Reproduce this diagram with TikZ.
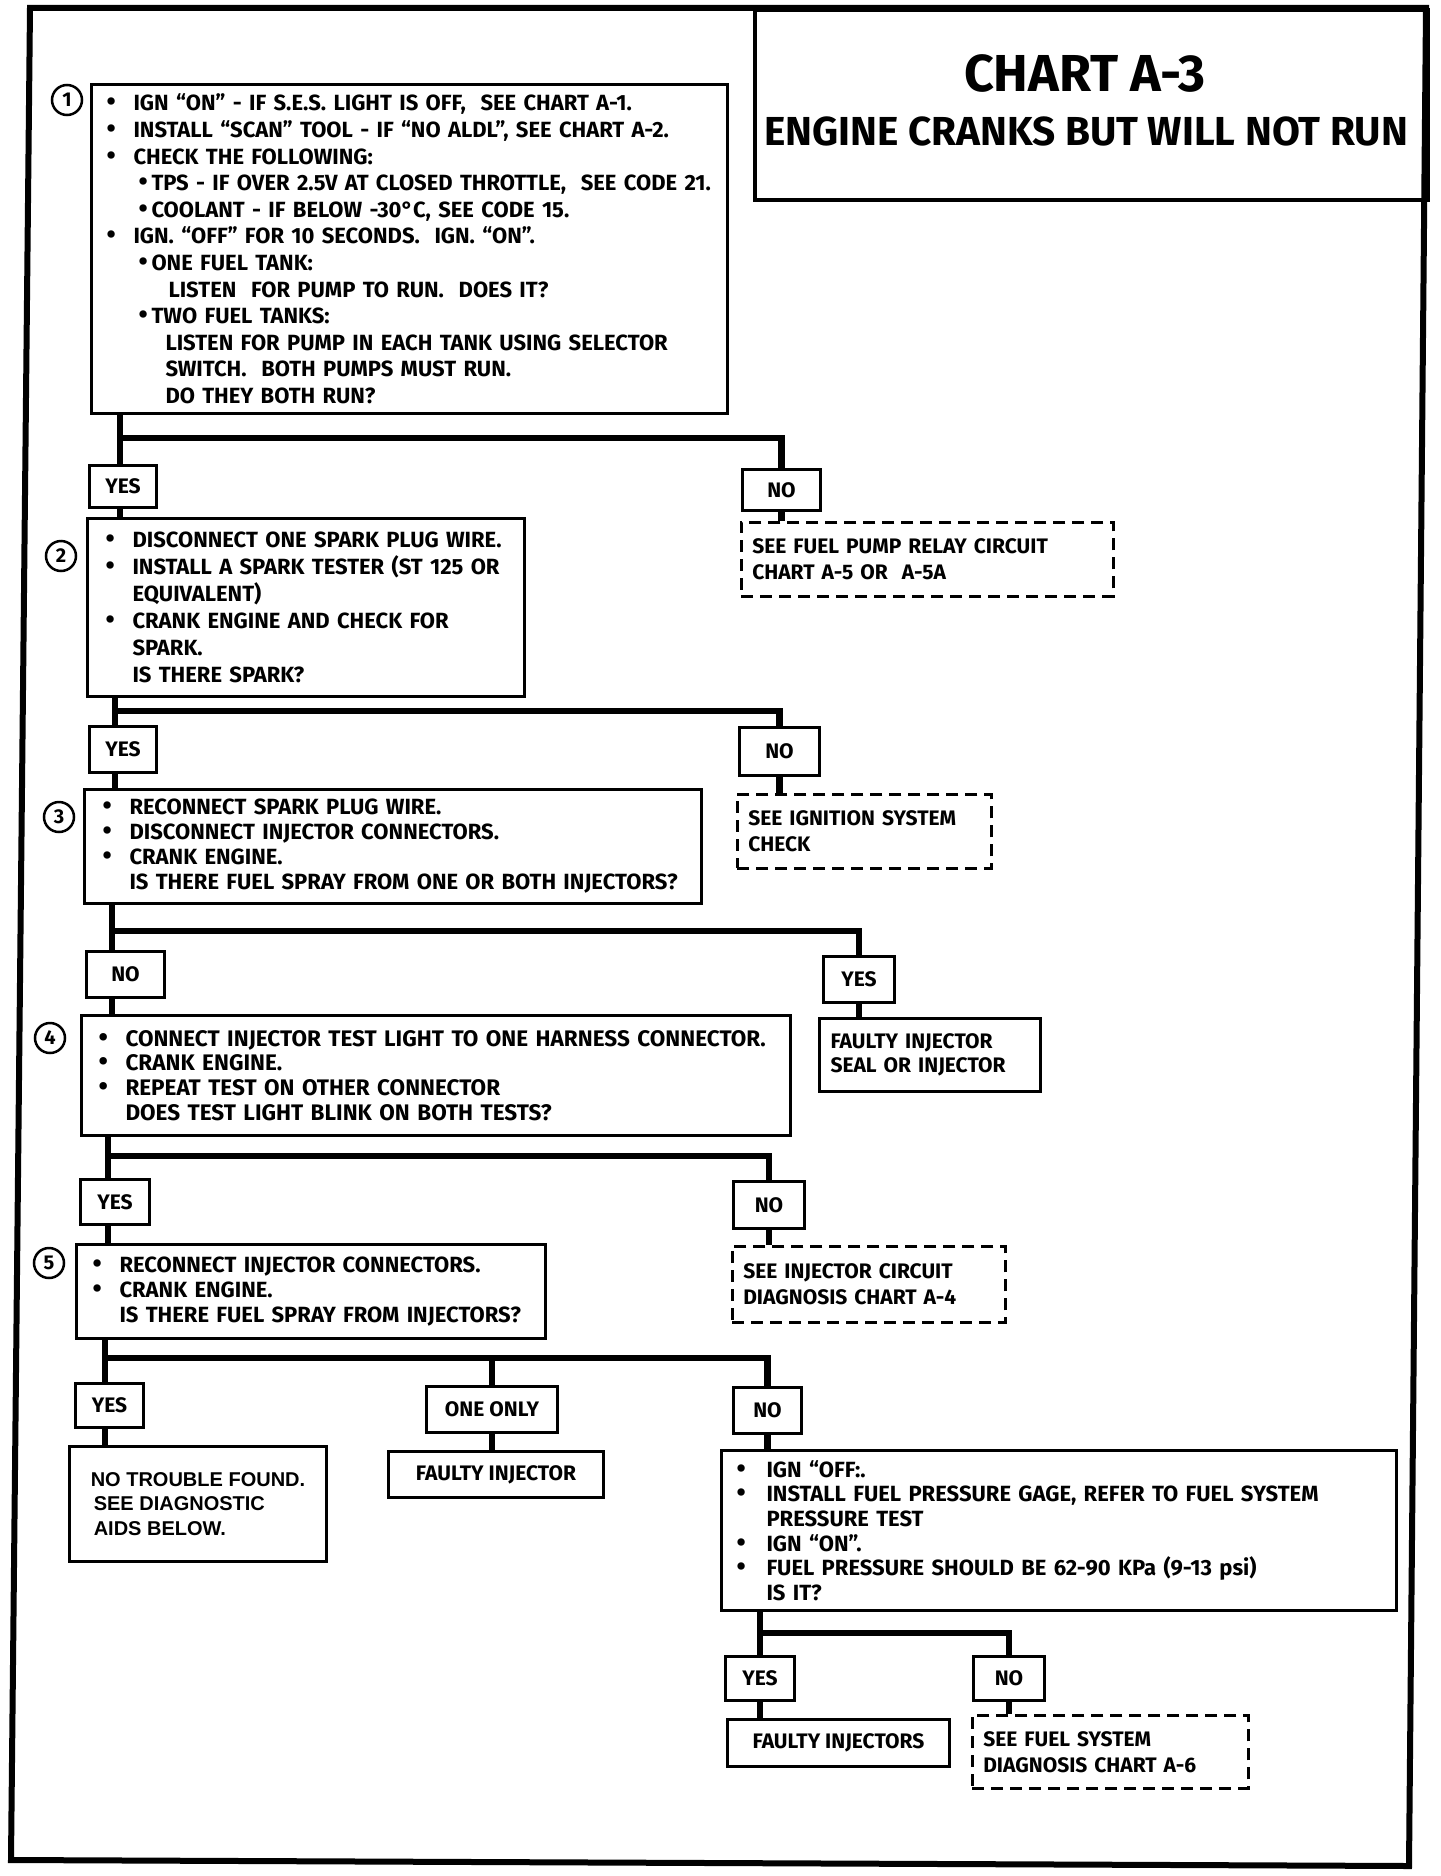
\documentclass[tikz,border=0pt]{standalone}
\usepackage{fontspec}
\setmainfont{Fira Sans}
\newfontfamily\aidsfont{Liberation Sans}
\usetikzlibrary{positioning}

\newcommand{\dotmark}{\scalebox{1.2}{\textbullet}}
\newcommand{\bul}{\makebox[27pt][l]{\dotmark}}
\newcommand{\sbul}{\makebox[13pt][l]{\dotmark}}

\tikzset{
  flow/.style={line width=6.5pt},
  stepbox/.style={draw, line width=3pt, anchor=north west, align=left, inner ysep=0pt},
  answer/.style={draw, line width=3pt, anchor=north west, inner sep=0pt, font=\bfseries\fontsize{21}{24}\selectfont},
  seebox/.style={draw, line width=2.5pt, dash pattern=on 12pt off 7pt, anchor=north west, align=left, inner xsep=11pt, inner ysep=0pt, font=\bfseries\fontsize{21}{26}\selectfont},
  result/.style={draw, line width=3pt, anchor=north west, align=left, inner ysep=0pt, font=\bfseries\fontsize{21}{24}\selectfont},
  stepnum/.style={draw, circle, line width=2.5pt, minimum size=30pt, inner sep=0pt, font=\bfseries\fontsize{20}{20}\selectfont},
}

\begin{document}
\begin{tikzpicture}[x=1pt, y=-1pt]
\useasboundingbox (0,0) rectangle (1440,1876);

% Frame and title
\draw[line width=6pt] (30,8) -- (1426,8) -- (1409,1866) -- (11,1860) -- cycle;
\node[draw, line width=4pt, anchor=north west, minimum width=673pt, minimum height=190pt] (title) at (753,8) {};
\node[font=\bfseries\fontsize{52}{52}\selectfont] (chart) at (1085,73) {CHART A-3};
\node[font=\bfseries\fontsize{40.5}{40.5}\selectfont] (engine) at (1086,131) {ENGINE CRANKS BUT WILL NOT RUN};

% Step 1
\node[stepbox, minimum width=636pt, minimum height=329pt, text width=606pt, inner xsep=15pt,
      font=\bfseries\fontsize{22}{26.6}\selectfont] (q1) at (90,83) {%
\bul IGN “ON” - IF S.E.S. LIGHT IS OFF,\ \ SEE CHART A-1.\\
\bul INSTALL “SCAN” TOOL - IF “NO ALDL”, SEE CHART A-2.\\
\bul CHECK THE FOLLOWING:\\
\hspace*{32pt}\sbul TPS - IF OVER 2.5V AT CLOSED THROTTLE,\ \ SEE CODE 21.\\
\hspace*{32pt}\sbul COOLANT - IF BELOW -30°C, SEE CODE 15.\\
\bul IGN. “OFF” FOR 10 SECONDS.\ \ IGN. “ON”.\\
\hspace*{32pt}\sbul ONE FUEL TANK:\\
\hspace*{62pt}LISTEN\ \ FOR PUMP TO RUN.\ \ DOES IT?\\
\hspace*{32pt}\sbul TWO FUEL TANKS:\\
\hspace*{59pt}LISTEN FOR PUMP IN EACH TANK USING SELECTOR\\
\hspace*{59pt}SWITCH.\ \ BOTH PUMPS MUST RUN.\\
\hspace*{59pt}DO THEY BOTH RUN?};
\node[stepnum] (n1) at (67,100) {1};
\coordinate (b1) at (120,438);
\node[answer, minimum width=67pt, minimum height=42pt] (yes1) at (88,464) {YES};
\node[answer, minimum width=78pt, minimum height=41pt] (no1) at (741,468) {NO};
\node[seebox, minimum width=372pt, minimum height=74pt, text width=350pt] (see1) at (740,521) {%
SEE FUEL PUMP RELAY CIRCUIT\\CHART A-5 OR\ \ A-5A};

% Step 2
\node[stepbox, minimum width=437pt, minimum height=178pt, text width=401pt, inner xsep=18pt,
      font=\bfseries\fontsize{22}{27}\selectfont] (q2) at (86,517) {%
\bul DISCONNECT ONE SPARK PLUG WIRE.\\
\bul INSTALL A SPARK TESTER (ST 125 OR\\
\hspace*{27pt}EQUIVALENT)\\
\bul CRANK ENGINE AND CHECK FOR\\
\hspace*{27pt}SPARK.\\
\hspace*{27pt}IS THERE SPARK?};
\node[stepnum] (n2) at (61,556) {2};
\coordinate (b2) at (115,711);
\node[answer, minimum width=67pt, minimum height=46pt] (yes2) at (88,725) {YES};
\node[answer, minimum width=80pt, minimum height=48pt] (no2) at (738,726) {NO};
\node[seebox, minimum width=254pt, minimum height=74pt, text width=232pt] (see2) at (736,793) {%
SEE IGNITION SYSTEM\\CHECK};

% Step 3
\node[stepbox, minimum width=617pt, minimum height=114pt, text width=581pt, inner xsep=18pt,
      font=\bfseries\fontsize{22}{25}\selectfont] (q3) at (83,788) {%
\bul RECONNECT SPARK PLUG WIRE.\\
\bul DISCONNECT INJECTOR CONNECTORS.\\
\bul CRANK ENGINE.\\
\hspace*{27pt}IS THERE FUEL SPRAY FROM ONE OR BOTH INJECTORS?};
\node[stepnum] (n3) at (59,817) {3};
\coordinate (b3) at (112,931);
\node[answer, minimum width=78pt, minimum height=46pt] (no3) at (85,950) {NO};
\node[answer, minimum width=71pt, minimum height=46pt] (yes3) at (822,955) {YES};
\node[result, minimum width=221pt, minimum height=73pt, text width=199pt, inner xsep=11pt] (seal) at (818,1017) {%
FAULTY INJECTOR\\SEAL OR INJECTOR};

% Step 4
\node[stepbox, minimum width=709pt, minimum height=120pt, text width=675pt, inner xsep=17pt,
      font=\bfseries\fontsize{22.5}{24.8}\selectfont] (q4) at (80,1014) {%
\bul CONNECT INJECTOR TEST LIGHT TO ONE HARNESS CONNECTOR.\\
\bul CRANK ENGINE.\\
\bul REPEAT TEST ON OTHER CONNECTOR\\
\hspace*{27pt}DOES TEST LIGHT BLINK ON BOTH TESTS?};
\node[stepnum] (n4) at (50,1038) {4};
\coordinate (b4) at (108,1156);
\node[answer, minimum width=69pt, minimum height=45pt] (yes4) at (79,1178) {YES};
\node[answer, minimum width=71pt, minimum height=47pt] (no4) at (732,1180) {NO};
\node[seebox, minimum width=273pt, minimum height=76pt, text width=251pt] (see4) at (731,1245) {%
SEE INJECTOR CIRCUIT\\DIAGNOSIS CHART A-4};

% Step 5
\node[stepbox, minimum width=469pt, minimum height=94pt, text width=437pt, inner xsep=16pt,
      font=\bfseries\fontsize{22}{25}\selectfont] (q5) at (75,1243) {%
\bul RECONNECT INJECTOR CONNECTORS.\\
\bul CRANK ENGINE.\\
\hspace*{27pt}IS THERE FUEL SPRAY FROM INJECTORS?};
\node[stepnum] (n5) at (49,1263) {5};
\coordinate (b5) at (105,1358);
\node[answer, minimum width=68pt, minimum height=44pt] (yes5) at (74,1382) {YES};
\node[answer, minimum width=131pt, minimum height=46pt] (one) at (425,1385) {ONE ONLY};
\node[answer, minimum width=68pt, minimum height=46pt] (no5) at (732,1386) {NO};
\node[result, minimum width=257pt, minimum height=115pt, inner xsep=0pt,
      font=\aidsfont\bfseries\fontsize{20}{24.5}\selectfont] (ntf) at (68,1445) {%
NO TROUBLE FOUND.\\\hspace*{3pt}SEE DIAGNOSTIC\\\hspace*{3pt}AIDS BELOW.};
\node[result, align=center, inner sep=0pt, minimum width=215pt, minimum height=46pt] (fi) at (387,1450) {FAULTY INJECTOR};

% Step 6
\node[stepbox, minimum width=675pt, minimum height=160pt, text width=645pt, inner xsep=15pt,
      font=\bfseries\fontsize{22}{24.6}\selectfont] (q6) at (720,1449) {%
\makebox[30pt][l]{\dotmark}IGN “OFF:.\\
\makebox[30pt][l]{\dotmark}INSTALL FUEL PRESSURE GAGE, REFER TO FUEL SYSTEM\\
\hspace*{30pt}PRESSURE TEST\\
\makebox[30pt][l]{\dotmark}IGN “ON”.\\
\makebox[30pt][l]{\dotmark}FUEL PRESSURE SHOULD BE 62-90 KPa (9-13 psi)\\
\hspace*{30pt}IS IT?};
\coordinate (b6) at (760,1633);
\node[answer, minimum width=69pt, minimum height=44pt] (yes6) at (724,1655) {YES};
\node[answer, minimum width=71pt, minimum height=44pt] (no6) at (972,1655) {NO};
\node[result, align=center, inner sep=0pt, minimum width=222pt, minimum height=47pt] (fis) at (726,1718) {FAULTY INJECTORS};
\node[seebox, minimum width=276pt, minimum height=73pt, text width=254pt] (see6) at (971,1714) {%
SEE FUEL SYSTEM\\DIAGNOSIS CHART A-6};

% Connectors
\draw[flow] (q1.south -| b1) -- (yes1.north -| b1);
\draw[flow] (b1) -| (no1.north);
\draw[flow] (yes1.south -| b1) -- (q2.north -| b1);
\draw[flow] (no1.south) -- (see1.north -| no1);

\draw[flow] (q2.south -| b2) -- (yes2.north -| b2);
\draw[flow] (b2) -| (no2.north);
\draw[flow] (yes2.south -| b2) -- (q3.north -| b2);
\draw[flow] (no2.south) -- (see2.north -| no2);

\draw[flow] (q3.south -| b3) -- (no3.north -| b3);
\draw[flow] (b3) -| (yes3.north);
\draw[flow] (no3.south -| b3) -- (q4.north -| b3);
\draw[flow] (yes3.south) -- (seal.north -| yes3);

\draw[flow] (q4.south -| b4) -- (yes4.north -| b4);
\draw[flow] (b4) -| (no4.north);
\draw[flow] (yes4.south -| b4) -- (q5.north -| b4);
\draw[flow] (no4.south) -- (see4.north -| no4);

\draw[flow] (q5.south -| b5) -- (yes5.north -| b5);
\draw[flow] (b5) -| (no5.north);
\draw[flow] (b5 -| one) -- (one.north);
\draw[flow] (yes5.south -| b5) -- (ntf.north -| b5);
\draw[flow] (one.south) -- (fi.north -| one);
\draw[flow] (no5.south) -- (q6.north -| no5);

\draw[flow] (q6.south -| b6) -- (yes6.north -| b6);
\draw[flow] (b6) -| (no6.north);
\draw[flow] (yes6.south -| b6) -- (fis.north -| b6);
\draw[flow] (no6.south) -- (see6.north -| no6);
\end{tikzpicture}
\end{document}
